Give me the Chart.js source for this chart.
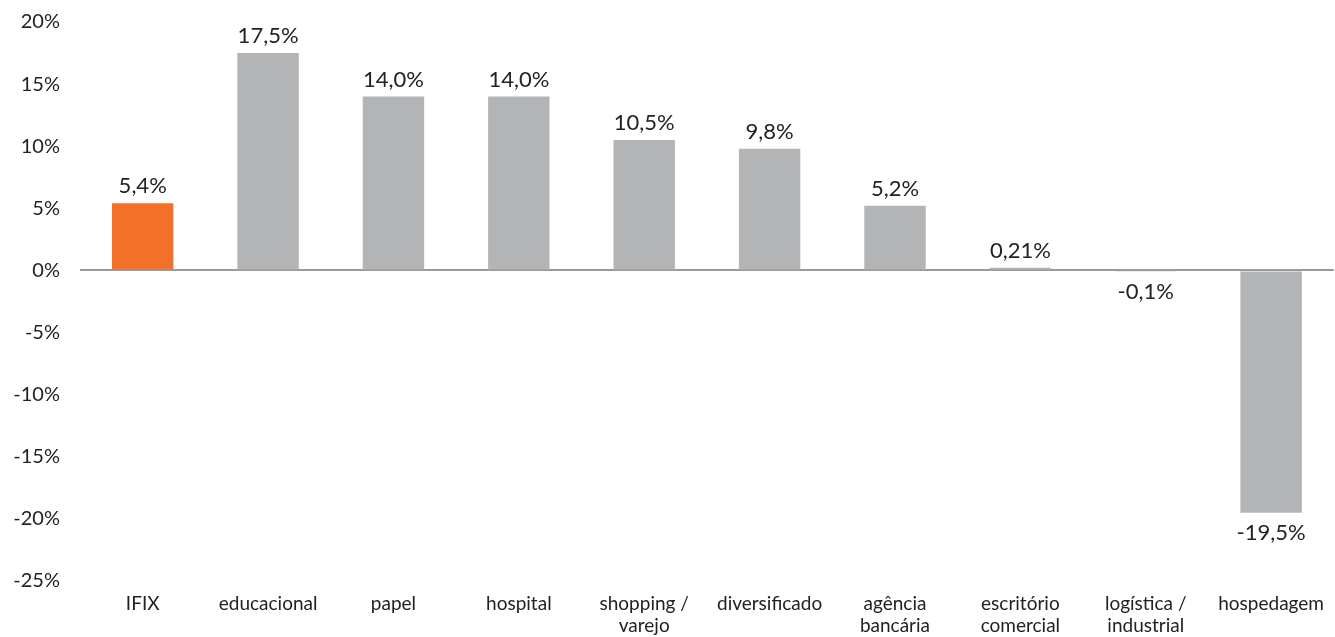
<!DOCTYPE html>
<html>
<head>
<meta charset="utf-8">
<script src="https://cdn.jsdelivr.net/npm/chart.js@4"></script>
<style>
  html, body { margin: 0; padding: 0; background: #fff; }
  #wrap { width: 1335px; height: 637px; position: relative; }
</style>
</head>
<body>
<div id="wrap"><canvas id="barSetores"></canvas></div>
<script>
const categorias = ["IFIX", "educacional", "papel", "hospital", ["shopping /", "varejo"], "diversificado", ["agência", "bancária"], ["escritório", "comercial"], ["logística /", "industrial"], "hospedagem"];
const retornos = [5.4, 17.5, 14.0, 14.0, 10.5, 9.8, 5.2, 0.21, -0.1, -19.5];
const rotulos = ["5,4%", "17,5%", "14,0%", "14,0%", "10,5%", "9,8%", "5,2%", "0,21%", "-0,1%", "-19,5%"];
const cores = ["#f37029", "#b2b4b6", "#b2b4b6", "#b2b4b6", "#b2b4b6", "#b2b4b6", "#b2b4b6", "#b2b4b6", "#b2b4b6", "#b2b4b6"];

const fonte = "Lato, 'Open Sans', sans-serif";

// rótulos de valor em cima / embaixo das barras
const rotuloBarras = {
    id: 'rotuloBarras',
    afterDatasetsDraw(chart) {
        const ctx = chart.ctx;
        const meta = chart.getDatasetMeta(0);
        ctx.save();
        ctx.font = "22px " + fonte;
        ctx.fillStyle = "#222";
        ctx.textAlign = "center";
        meta.data.forEach((bar, i) => {
            if (retornos[i] >= 0) {
                ctx.textBaseline = "bottom";
                ctx.fillText(rotulos[i], bar.x, bar.y - 6);
            } else {
                ctx.textBaseline = "top";
                ctx.fillText(rotulos[i], bar.x, Math.max(bar.y, bar.base) + 9);
            }
        });
        ctx.restore();
    }
};

const barSetores = new Chart('barSetores', {
    type: 'bar',
    data: {
        labels: categorias,
        datasets: [{
            data: retornos,
            backgroundColor: cores,
            borderWidth: 0,
            categoryPercentage: 1,
            barPercentage: 0.49
        }]
    },
    options: {
        responsive: true,
        maintainAspectRatio: false,
        animation: false,
        layout: { padding: { top: 22, right: 0, bottom: 0, left: 0 } },
        plugins: {
            legend: { display: false },
            title: { display: false },
            tooltip: { enabled: false }
        },
        scales: {
            y: {
                min: -25,
                max: 20,
                ticks: {
                    stepSize: 5,
                    padding: 20,
                    color: "#222",
                    font: { family: fonte, size: 20 },
                    callback: v => v + "%"
                },
                border: { display: false },
                grid: {
                    drawTicks: false,
                    lineWidth: 2,
                    color: c => c.tick && c.tick.value === 0 ? "#9a9a9a" : "rgba(0,0,0,0)"
                },
                afterFit: s => {
                    s.width = 80;
                    s.paddingTop = 10;
                    s.paddingBottom = 10;
                }
            },
            x: {
                ticks: {
                    padding: 11,
                    color: "#222",
                    font: { family: fonte, size: 19, lineHeight: 1.2 },
                    maxRotation: 0,
                    autoSkip: false
                },
                border: { display: false },
                grid: { display: false, drawTicks: false },
                afterFit: s => { s.height = 56; }
            }
        }
    },
    plugins: [rotuloBarras]
});
</script>
</body>
</html>
